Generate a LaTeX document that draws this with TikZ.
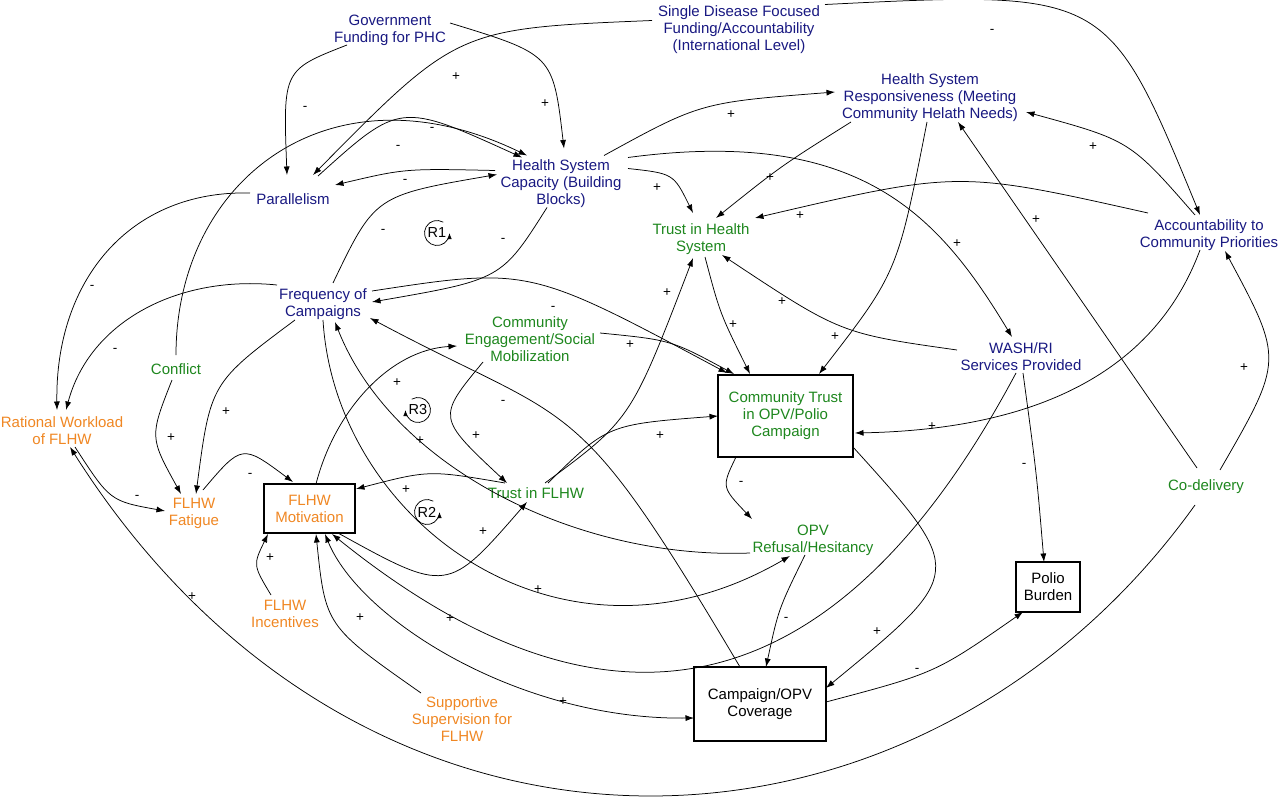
\documentclass[tikz,border=0pt]{standalone}
\usepackage{fontspec}
\setmainfont{Liberation Sans}
\usetikzlibrary{calc,arrows.meta}
\definecolor{cblue}{RGB}{25,25,130}
\definecolor{cgreen}{RGB}{30,135,30}
\definecolor{corange}{RGB}{240,135,35}
\newcommand\myvfont{\fontsize{15}{17}\selectfont}
\newcommand\mysgfont{\fontsize{13.5}{13.5}\selectfont}
\newcommand\myrfont{\fontsize{14.5}{14.5}\selectfont}
\tikzset{
 v/.style={inner sep=0pt, align=center, font=\myvfont},
 bl/.style={v, text=cblue},
 gr/.style={v, text=cgreen},
 og/.style={v, text=corange},
 bx/.style={v, draw=black, line width=1.2pt},
 arr/.style={-{Latex[length=8.5pt,width=6pt]}, line width=0.75pt},
 arrb/.style={{Latex[length=8.5pt,width=6pt]}-{Latex[length=8.5pt,width=6pt]}, line width=0.75pt},
 sg/.style={font=\mysgfont, inner sep=0pt},
 lp/.style={-{Latex[length=6pt,width=4.5pt]}, line width=0.75pt},
 rl/.style={font=\myrfont, inner sep=0pt},
}
\begin{document}
\begin{tikzpicture}[x=1pt,y=-1pt]
\useasboundingbox (0,0) rectangle (1280,797);
\fill[white] (0,0) rectangle (1280,797);
% nodes
\node[bl] (gov) at (390,30) {Government\\Funding for PHC};
\node[bl] (sdf) at (739,29.5) {Single Disease Focused\\Funding/Accountability\\(International Level)};
\node[bl] (resp) at (930,97.5) {Health System\\Responsiveness (Meeting\\Community Helath Needs)};
\node[bl] (cap) at (561,183.5) {Health System\\Capacity (Building\\Blocks)};
\node[bl] (par) at (293,199) {Parallelism};
\node[gr] (ths) at (701,239) {Trust in Health\\System};
\node[bl] (acc) at (1209,235) {Accountability to\\Community Priorities};
\node[bl] (freq) at (323,304) {Frequency of\\Campaigns};
\node[gr] (ceng) at (530,339.5) {Community\\Engagement/Social\\Mobilization};
\node[gr] (conf) at (176,369) {Conflict};
\node[bl] (wash) at (1021,357) {WASH/RI\\Services Provided};
\node[og] (rat) at (62,431) {Rational Workload\\of FLHW};
\node[bx, text=cgreen, minimum width=135, minimum height=82] (ctrust) at (785.5,416) {Community Trust\\in OPV/Polio\\Campaign};
\node[gr] (codel) at (1206,487) {Co-delivery};
\node[og] (fat) at (194,513) {FLHW\\Fatigue};
\node[bx, text=corange, minimum width=91, minimum height=49] (mot) at (309.5,508.5) {FLHW\\Motivation};
\node[gr] (tflhw) at (536,493) {Trust in FLHW};
\node[gr] (opv) at (813,540) {OPV\\Refusal/Hesitancy};
\node[bx, minimum width=64, minimum height=50] (polio) at (1048,587) {Polio\\Burden};
\node[og] (inc) at (285,614) {FLHW\\Incentives};
\node[og] (sup) at (462,719.5) {Supportive\\Supervision for\\FLHW};
\node[bx, minimum width=132, minimum height=74] (camp) at (760,704) {Campaign/OPV\\Coverage};
% connectors
\draw[arr] ($(gov)+(-43,15)$) .. controls (283,70) .. ($(par)+(-6,-24)$);
\draw[arr] ($(gov)+(60,-7)$) .. controls (553,54.5) .. ($(cap)+(3,-35)$);
\draw[arr] ($(sdf)+(-87,-9)$) .. controls (457.5,28.5) .. ($(par)+(20,-24)$);
\draw[arr] ($(sdf)+(86,-25)$) .. controls (1107.5,-9.5) .. ($(acc)+(-9,-20)$);
\draw[arr] ($(conf)+(0,-14)$) .. controls (176,180) and (330,60) .. ($(cap)+(-34,-28)$);
\draw[arr] ($(par)+(25,-23)$) .. controls (400,102) .. ($(cap)+(-39,-26)$);
\draw[arr] ($(cap)+(-66,-13)$) .. controls (405,168.5) .. ($(par)+(42,-14)$);
\draw[arr] ($(freq)+(10,-21)$) .. controls (375,195.5) .. ($(cap)+(-64,-9)$);
\draw[arr] ($(cap)+(-14,24)$) .. controls (501.5,279.5) .. ($(freq)+(49,-2)$);
\draw[arr] ($(par)+(-43,-6)$) .. controls (130,190) and (55,280) .. ($(rat)+(-5,-21)$);
\draw[arr] ($(freq)+(-46,-19)$) .. controls (180,275) and (90,320) .. ($(rat)+(4,-21)$);
\draw[arr] ($(conf)+(-4,11)$) .. controls (149.5,437) .. ($(fat)+(-13,-19)$);
\draw[arr] ($(freq)+(-28,16)$) .. controls (210.5,383) .. ($(fat)+(2,-19)$);
\draw[arr] ($(rat)+(13,16)$) .. controls (110,501) .. ($(fat)+(-29,-2)$);
\draw[arr] ($(fat)+(9,-23)$) .. controls (242,444) .. ($(mot)+(-16.5,-26.5)$);
\draw[arr] ($(freq)+(49,-13)$) .. controls (529,267) .. ($(ctrust)+(-58.5,-43)$);
\draw[arr] ($(ceng)+(70,-6.5)$) .. controls (671,340) .. ($(ctrust)+(-51.5,-42)$);
\draw[arr] ($(ceng)+(-47,22.5)$) .. controls (437,417.5) .. ($(tflhw)+(-29,-10)$);
\draw[arr] ($(tflhw)+(9,-10)$) .. controls (631,419.5) .. ($(ths)+(-8,19)$);
\draw[arr] ($(tflhw)+(12,-10)$) .. controls (607.5,424.5) .. ($(ctrust)+(-67.5,0)$);
\draw[arr] ($(tflhw)+(-31,-10)$) .. controls (429,470) .. ($(mot)+(46.5,-19.5)$);
\draw[arr] ($(mot)+(28.5,24.5)$) .. controls (447.5,593.5) .. ($(tflhw)+(-9,9)$);
\draw[arr] ($(inc)+(-14,-19)$) .. controls (253,565) .. ($(mot)+(-41.5,25.5)$);
\draw[arr] ($(sup)+(-41,-26.5)$) .. controls (325.5,626) .. ($(mot)+(6.5,25.5)$);
\draw[arr] ($(wash)+(-5,16)$) .. controls (816,749) and (575,730) .. ($(mot)+(22.5,25.5)$);
\draw[arrb] ($(mot)+(15.5,25.5)$) .. controls (360,620) and (520,720) .. ($(camp)+(-66,14)$);
\draw[arr] ($(codel)+(-11,18)$) .. controls (919.7,889.4) and (365.3,913.4) .. ($(rat)+(8,16)$);
\draw[arr] ($(camp)+(66,-2)$) .. controls (935.5,673) .. ($(polio)+(-25,25)$);
\draw[arr] ($(ctrust)+(67.5,31)$) .. controls (966.5,572.5) .. ($(camp)+(66,-16)$);
\draw[arr] ($(ctrust)+(-49.5,41)$) .. controls (721.5,487) .. ($(opv)+(-61,-21)$);
\draw[arr] ($(opv)+(-8,15)$) .. controls (778.5,609) .. ($(camp)+(6,-37)$);
\draw[arr] ($(opv)+(-63,13)$) .. controls (579,559.8) and (392.7,468.3) .. ($(freq)+(12,18)$);
\draw[arr] ($(freq)+(0,16)$) .. controls (335,520) and (560,690) .. ($(opv)+(-23,16)$);
\draw[arr] ($(camp)+(-20,-37)$) .. controls (572.2,384.1) and (577.8,429) .. ($(freq)+(47,14)$);
\draw[arr] ($(mot)+(6.5,-24.5)$) .. controls (335,410) and (390,350) .. ($(ceng)+(-73,6.5)$);
\draw[arr] ($(cap)+(43,-28)$) .. controls (700.5,102.5) .. ($(resp)+(-95,-5.5)$);
\draw[arr] ($(cap)+(67,-15)$) .. controls (673.5,173.5) .. ($(ths)+(-8,-26)$);
\draw[arr] ($(cap)+(67,-26)$) .. controls (861,126.4) and (939,216) .. ($(wash)+(-9,-20)$);
\draw[arr] ($(resp)+(-79,24.5)$) .. controls (781,166) .. ($(ths)+(15,-21)$);
\draw[arr] ($(resp)+(-3,24.5)$) .. controls (897.5,272.5) .. ($(ctrust)+(33.5,-42)$);
\draw[arr] ($(acc)+(-14,-20)$) .. controls (1130,140.5) .. ($(resp)+(96,14.5)$);
\draw[arr] ($(acc)+(-61,-22)$) .. controls (958.5,170.5) .. ($(ths)+(54,-21)$);
\draw[arr] ($(acc)+(-9,15)$) .. controls (1145.9,395.4) and (995.7,430.2) .. ($(ctrust)+(69.5,17)$);
\draw[arr] ($(codel)+(14,-17)$) .. controls (1283.5,360) .. ($(acc)+(16,16)$);
\draw[arr] ($(codel)+(-9,-19)$) -- ($(resp)+(28,24.5)$);
\draw[arr] ($(wash)+(-64,-7)$) .. controls (840.5,333.5) .. ($(ths)+(21,16)$);
\draw[arr] ($(wash)+(2,16)$) .. controls (1036.5,472.5) .. ($(polio)+(-4,-25)$);
\draw[arr] ($(ths)+(4,18)$) .. controls (720,313.5) .. ($(ctrust)+(-35.5,-42)$);
% polarity labels
\node[sg] (l1) at (305,108) {-};
\node[sg] (l2) at (545,104) {+};
\node[sg] (l3) at (456,77) {+};
\node[sg] (l4) at (992,31) {-};
\node[sg] (l5) at (432,129) {-};
\node[sg] (l6) at (398,147) {-};
\node[sg] (l7) at (405,181) {-};
\node[sg] (l8) at (383,231) {-};
\node[sg] (l9) at (503,240) {-};
\node[sg] (l10) at (731,115) {+};
\node[sg] (l11) at (657,188) {+};
\node[sg] (l12) at (770,178) {+};
\node[sg] (l13) at (1093,147) {+};
\node[sg] (l14) at (800,216) {+};
\node[sg] (l15) at (1036,220) {+};
\node[sg] (l16) at (957,244) {+};
\node[sg] (l17) at (92,287) {-};
\node[sg] (l18) at (115,350) {-};
\node[sg] (l19) at (553,308) {-};
\node[sg] (l20) at (667,293) {+};
\node[sg] (l21) at (733,325) {+};
\node[sg] (l22) at (782,302) {+};
\node[sg] (l23) at (835,337) {+};
\node[sg] (l24) at (630,345) {+};
\node[sg] (l25) at (1244,368) {+};
\node[sg] (l26) at (226,412) {+};
\node[sg] (l27) at (397,383) {+};
\node[sg] (l28) at (420,441) {+};
\node[sg] (l29) at (503,402) {-};
\node[sg] (l30) at (476,436) {+};
\node[sg] (l31) at (171,438) {+};
\node[sg] (l32) at (660,436) {+};
\node[sg] (l33) at (932,427) {+};
\node[sg] (l34) at (1024,465) {-};
\node[sg] (l35) at (741,483) {-};
\node[sg] (l36) at (137,497) {-};
\node[sg] (l37) at (250,475) {-};
\node[sg] (l38) at (406,490) {+};
\node[sg] (l39) at (483,532) {+};
\node[sg] (l40) at (270,558) {+};
\node[sg] (l41) at (538,590) {+};
\node[sg] (l42) at (192,597) {+};
\node[sg] (l43) at (360,618) {+};
\node[sg] (l44) at (450,619) {+};
\node[sg] (l45) at (786,619) {-};
\node[sg] (l46) at (877,632) {+};
\node[sg] (l47) at (917,670) {-};
\node[sg] (l48) at (563,702) {+};
% loop markers
\node[rl] (r1) at (437,233) {R1};
\draw[lp] ($(r1)+(-60:12.5)$) arc[start angle=-60,end angle=-360,radius=12.5];
\node[rl] (r3) at (418,410) {R3};
\draw[lp] ($(r3)+(-120:12.5)$) arc[start angle=-120,end angle=180,radius=12.5];
\node[rl] (r2) at (427,512) {R2};
\draw[lp] ($(r2)+(-60:12.5)$) arc[start angle=-60,end angle=-360,radius=12.5];
\end{tikzpicture}
\end{document}
